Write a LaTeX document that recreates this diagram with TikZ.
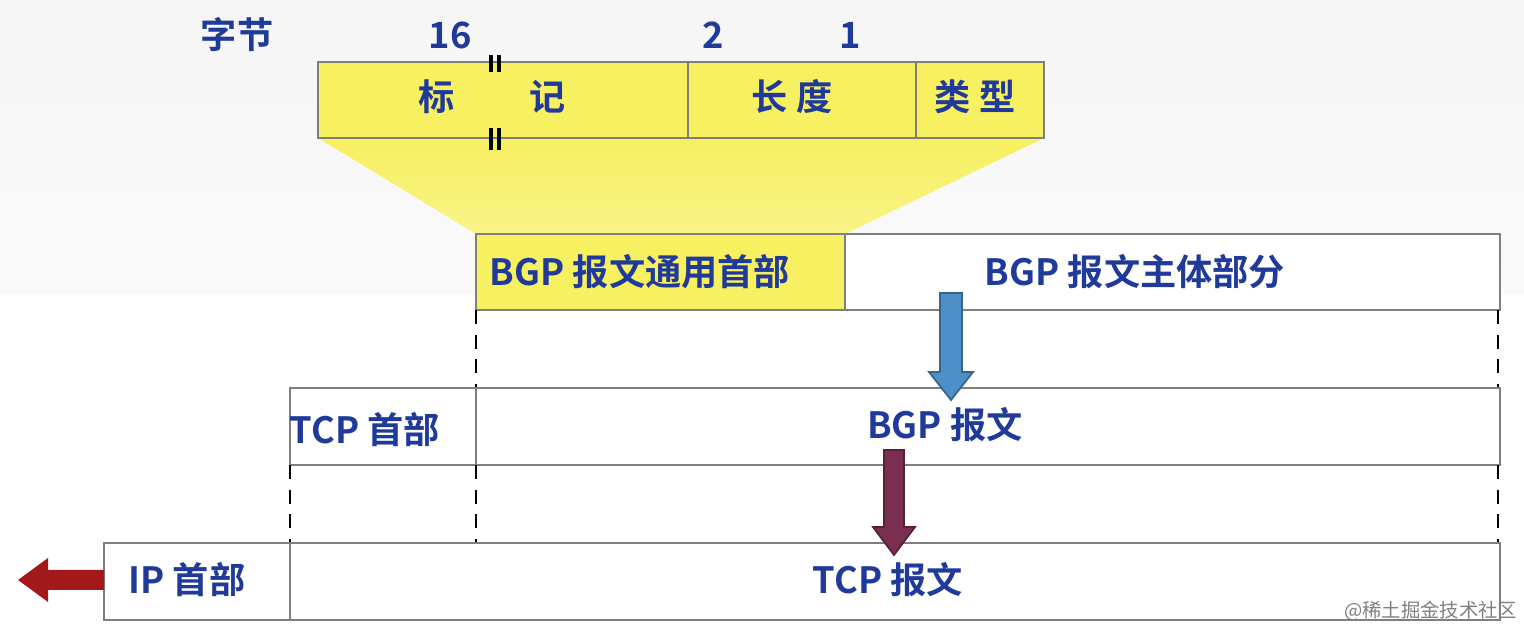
\documentclass[tikz,border=0pt]{standalone}
\usepackage{fontspec}
\setmainfont{Noto Sans CJK SC}[BoldFont={Noto Sans CJK SC Bold}]
\begin{document}
\begin{tikzpicture}[x=0.01cm,y=-0.01cm]
\definecolor{tblue}{HTML}{1F3A9A}
\definecolor{ybox}{HTML}{F7F060}
\definecolor{gbox}{HTML}{7F7F7F}
\tikzset{lbl/.style={text=tblue,font=\bfseries\fontsize{10.3pt}{12pt}\selectfont,inner sep=0pt},
 cell/.style={draw=gbox,line width=0.6pt},
 dsh/.style={dashed,line width=0.6pt,dash pattern=on 4pt off 3pt},
 brk/.style={line width=1.3pt}}
\useasboundingbox (0,0) rectangle (1524,631);
\shade[top color=white!93!gray,bottom color=white!96!gray] (0,0) rectangle (1524,295);
\fill[white] (0,295) rectangle (1524,631);
% top
\node[lbl] (zj) at (237,35) {字节};
\node[lbl] (n16) at (450,35) {16};
\node[lbl] (n2) at (713,35) {2};
\node[lbl] (n1) at (850,35) {1};
\shade[top color=ybox,bottom color=ybox!75!white] (318,138) -- (1044,138) -- (845,234) -- (476,234) -- cycle;
\draw[cell,fill=ybox] (318,62) rectangle (1044,138);
\draw[cell] (688,62) -- (688,138) (916,62) -- (916,138);
\draw[brk] (491,55) -- (491,72) (499,55) -- (499,72) (491,128) -- (491,150) (499,128) -- (499,150);
\node[lbl] (b1) at (437,97) {标};
\node[lbl] (b2) at (548,97) {记};
\node[lbl] (cd) at (792,97) {长\ 度};
\node[lbl] (lx) at (975,97) {类\ 型};
% row1
\draw[cell,fill=ybox] (476,234) rectangle (845,310);
\draw[cell,fill=white] (845,234) rectangle (1500,310);
\node[lbl] (h1) at (640,272) {BGP 报文通用首部};
\node[lbl] (h2) at (1135,272) {BGP 报文主体部分};
\draw[dsh] (476,310) -- (476,388) (1498,310) -- (1498,388);
% row2
\draw[cell] (290,388) rectangle (1500,465) (476,388) -- (476,465);
\node[lbl] (tcph) at (365,430) {TCP 首部};
\node[lbl] (bgp) at (945,425) {BGP 报文};
\draw[dsh] (290,465) -- (290,543) (476,465) -- (476,543) (1498,465) -- (1498,543);
% row3
\draw[cell] (104,543) rectangle (1500,620) (290,543) -- (290,620);
\node[lbl] (iph) at (187,580) {IP 首部};
\node[lbl] (tcp) at (888,580) {TCP 报文};
% arrows
\definecolor{barrow}{HTML}{4F8FC8}
\definecolor{marrow}{HTML}{7A2E50}
\draw[fill=barrow,draw=barrow!70!black,line width=0.5pt] (940,293) -- (962,293) -- (962,372) -- (973,372) -- (951,400) -- (929,372) -- (940,372) -- cycle;
\draw[fill=marrow,draw=marrow!70!black,line width=0.5pt] (884,450) -- (904,450) -- (904,527) -- (915,527) -- (894,555) -- (873,527) -- (884,527) -- cycle;
\fill[red!60!black!90] (104,570) -- (48,570) -- (48,558) -- (18,580) -- (48,602) -- (48,590) -- (104,590) -- cycle;
\node[text=gray,font=\fontsize{5.5pt}{7pt}\selectfont,anchor=east,inner sep=0pt] (wm) at (1518,611) {@稀土掘金技术社区};
\end{tikzpicture}
\end{document}
